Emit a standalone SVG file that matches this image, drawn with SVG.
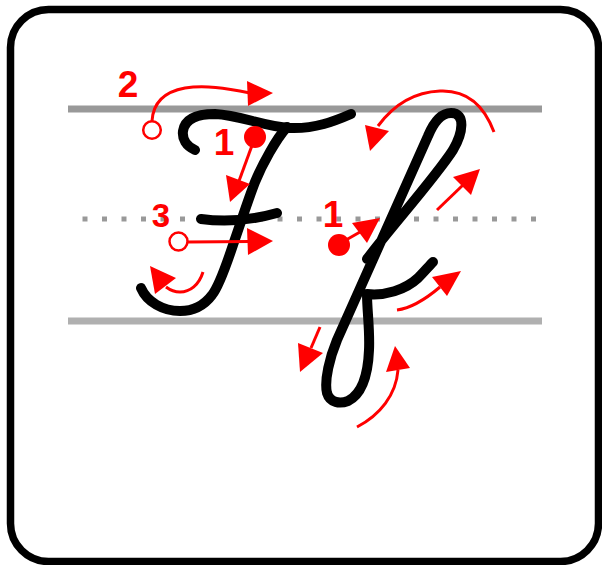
<svg xmlns="http://www.w3.org/2000/svg" width="602" height="565" viewBox="0 0 602 565">
<style>
.ink{fill:none;stroke:#000;stroke-width:10;stroke-linecap:round;stroke-linejoin:round}
.red{fill:none;stroke:#ff0000;stroke-width:3}
.head{fill:#ff0000;stroke:none}
.open{fill:#fff;stroke:#ff0000;stroke-width:2.5}
.dot{fill:#ff0000}
.num{font-family:"Liberation Sans",Arial,sans-serif;font-weight:bold;font-size:37px;fill:#ff0000;text-anchor:middle}
</style>
<rect x="0" y="0" width="602" height="565" fill="#fff"/>
<rect id="frame" x="10.5" y="9.5" width="588" height="552" rx="38" ry="38" fill="#fff" stroke="#000" stroke-width="7.5"/>
<g id="guides">
<line x1="68" y1="109" x2="542" y2="109" stroke="#999" stroke-width="7"/>
<line x1="68" y1="321" x2="542" y2="321" stroke="#b0b0b0" stroke-width="7"/>
<line x1="82.5" y1="219" x2="536" y2="219" stroke="#999" stroke-width="5" stroke-dasharray="5 14.5"/>
</g>
<g id="letter-F">
<path class="ink" d="M195,150 C186,146 182,139 183,131 C185,118 198,114 215,114 C240,115 262,126 290,128 C315,129 335,121 351,114"/>
<path class="ink" d="M287,127 C276,139 262,165 255,182 C248,200 240,225 234,242 C228,260 220,285 212,295 C203,307 192,311 180,311 C163,311 147,302 141,288"/>
<path class="ink" d="M201,219 Q238,224 277,213"/>
</g>
<g id="letter-f">
<path class="ink" d="M367,259 C390,228 435,178 453,150 C463,133 466,113 451,113 C440,113 433,124 428,136 L337,340 C330,357 324,380 327,393 C330,403 340,404 348,401 C362,394 368,375 369,350 C370,330 367,310 367,294 C385,296 405,290 418,278 C424,272 429,266 433,262"/>
</g>
<g id="connectors">
<path class="red" d="M152,121 C153,104 163,92 185,88 C205,85 225,88 250,93"/>
<polygon class="head" points="273,93 247,81 248,106"/>
<line class="red" x1="254" y1="140" x2="239" y2="181"/>
<polygon class="head" points="230,202 226,175 250,184"/>
<line class="red" x1="188" y1="242" x2="250" y2="241.5"/>
<polygon class="head" points="273,241 247,228 248,255"/>
<path class="red" d="M203,272 C199,285 190,292 180,292 C174,292 170,290 166,287"/>
<polygon class="head" points="150,266 155,294 176,278"/>
<line class="red" x1="346" y1="240" x2="360" y2="232"/>
<polygon class="head" points="380,218 352,223 367,243"/>
<path class="red" d="M494,132 C482,100 462,90 440,91 C415,92 395,103 378,126"/>
<polygon class="head" points="370,151 365,125 389,131"/>
<line class="red" x1="437" y1="210" x2="463" y2="185"/>
<polygon class="head" points="480,169 453,177 471,195"/>
<line class="red" x1="320" y1="327" x2="311" y2="348"/>
<polygon class="head" points="300,372 298,343 323,353"/>
<path class="red" d="M357,427 C380,415 396,395 398,370"/>
<polygon class="head" points="395,346 386,372 410,368"/>
<path class="red" d="M397,310 C413,308 427,298 440,287"/>
<polygon class="head" points="461,271 432,277 447,296"/>
</g>
<g id="start-2"><circle class="open" cx="152" cy="130" r="8.8"/><text class="num" x="128" y="97">2</text></g>
<g id="start-1F"><circle class="dot" cx="255" cy="137" r="11"/><text class="num" x="224" y="155">1</text></g>
<g id="start-3"><circle class="open" cx="178.5" cy="241.5" r="9"/><text class="num" x="161" y="227" style="font-size:33px">3</text></g>
<g id="start-1f"><circle class="dot" cx="339" cy="245" r="11"/><text class="num" x="333" y="227">1</text></g>
</svg>
